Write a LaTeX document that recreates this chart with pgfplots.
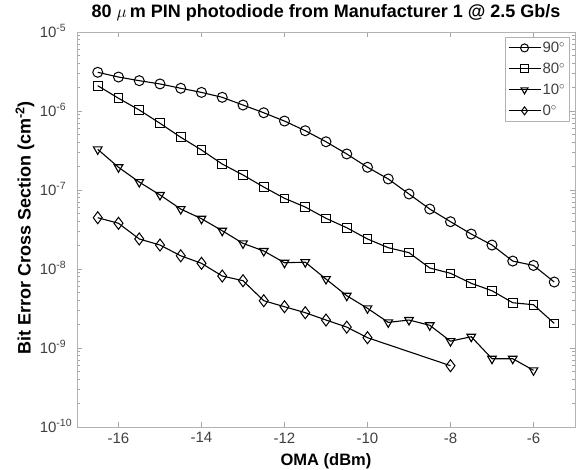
\documentclass[border=0pt]{standalone}
\usepackage{fontspec}
\setmainfont{Liberation Sans}
\usepackage{pgfplots}
\pgfplotsset{compat=1.18}

% measured bit error cross sections, one table per incidence angle
\pgfplotstableread{
x y
-16.5 3.09e-6
-16.0 2.69e-6
-15.5 2.42e-6
-15.0 2.20e-6
-14.5 1.94e-6
-14.0 1.72e-6
-13.5 1.49e-6
-13.0 1.19e-6
-12.5 9.5e-7
-12.0 7.46e-7
-11.5 5.63e-7
-11.0 4.08e-7
-10.5 2.86e-7
-10.0 1.94e-7
-9.5 1.38e-7
-9.0 8.9e-8
-8.5 5.74e-8
-8.0 3.97e-8
-7.5 2.77e-8
-7.0 2.01e-8
-6.5 1.26e-8
-6.0 1.11e-8
-5.5 6.84e-9
}\angleninety
\pgfplotstableread{
x y
-16.5 2.09e-6
-16.0 1.45e-6
-15.5 1.03e-6
-15.0 6.99e-7
-14.5 4.65e-7
-14.0 3.21e-7
-13.5 2.13e-7
-13.0 1.55e-7
-12.5 1.09e-7
-12.0 7.85e-8
-11.5 6.09e-8
-11.0 4.38e-8
-10.5 3.33e-8
-10.0 2.40e-8
-9.5 1.86e-8
-9.0 1.61e-8
-8.5 1.03e-8
-8.0 8.82e-9
-7.5 6.59e-9
-7.0 5.31e-9
-6.5 3.74e-9
-6.0 3.53e-9
-5.5 2.05e-9
}\angleeighty
\pgfplotstableread{
x y
-16.5 3.27e-7
-16.0 1.94e-7
-15.5 1.26e-7
-15.0 8.65e-8
-14.5 5.74e-8
-14.0 4.33e-8
-13.5 3.05e-8
-13.0 2.11e-8
-12.5 1.69e-8
-12.0 1.20e-8
-11.5 1.22e-8
-11.0 7.46e-9
-10.5 4.59e-9
-10.0 3.18e-9
-9.5 2.11e-9
-9.0 2.26e-9
-8.5 1.94e-9
-8.0 1.22e-9
-7.5 1.39e-9
-7.0 7.32e-10
-6.5 7.32e-10
-6.0 5.22e-10
}\angleten
\pgfplotstableread{
x y
-16.5 4.46e-8
-16.0 3.79e-8
-15.5 2.40e-8
-15.0 2.01e-8
-14.5 1.47e-8
-14.0 1.18e-8
-13.5 8.15e-9
-13.0 7.11e-9
-12.5 3.97e-9
-12.0 3.33e-9
-11.5 2.80e-9
-11.0 2.26e-9
-10.5 1.84e-9
-10.0 1.35e-9
-8.0 5.97e-10
}\anglezero

\newcommand{\dec}[1]{10\rlap{\smash{\textsuperscript{#1}}}}

\begin{document}
\begin{tikzpicture}
\begin{axis}[
  at={(0pt,0pt)}, anchor=south west,
  scale only axis, width=498pt, height=395pt,
  ymode=log,
  xmin=-17, xmax=-5, ymin=1e-10, ymax=1e-5,
  axis line style={draw=black!30, line width=0.8pt},
  every tick/.style={draw=black!35, line width=0.6pt},
  tick align=inside,
  major tick length=5pt, minor tick length=3pt,
  xtick={-16,-14,-12,-10,-8,-6},
  xticklabels={-16,-14,-12,-10,-8,-6},
  ytick={1e-10,1e-9,1e-8,1e-7,1e-6,1e-5},
  yticklabels={\dec{-10},\dec{-9},\dec{-8},\dec{-7},\dec{-6},\dec{-5}},
  ticklabel style={font=\fontsize{15}{15}\selectfont, text=black!75},
  xticklabel style={yshift=-2pt},
  yticklabel style={anchor=east, xshift=-17pt},
  title={\textbf{80 $\mu$\,m PIN photodiode from Manufacturer 1 @ 2.5 Gb/s}},
  title style={font=\fontsize{18}{18}\selectfont, at={(axis description cs:0.5,1)}, anchor=base, yshift=9pt},
  xlabel={\textbf{OMA (dBm)}},
  xlabel style={font=\fontsize{16.5}{16.5}\selectfont, at={(axis description cs:0.5,-0.0987)}, anchor=base},
  ylabel={\textbf{Bit Error Cross Section (cm\textsuperscript{-2})}},
  ylabel style={font=\fontsize{18}{18}\selectfont, at={(axis description cs:-0.1044,0.504)}, anchor=center},
  every axis plot/.append style={black, line width=1.1pt, mark size=5pt,
    mark options={solid, fill=none, line width=1pt}},
  legend style={at={(rel axis cs:0.99,0.987)}, anchor=north east,
    draw=black!30, line width=0.6pt, font=\fontsize{15}{15}\selectfont,
    text=black!75, row sep=6pt, inner sep=3pt,
    nodes={inner sep=1.5pt}},
  legend cell align=left,
  legend image code/.code={
    \draw[mark repeat=2, mark phase=2, #1, mark size=4pt]
      plot coordinates {(0pt,0pt) (16pt,0pt) (32pt,0pt)};},
]
\addplot[mark=o] table {\angleninety};
\addlegendentry{90$^{\circ}$}
\addplot[mark=square, mark size=4.3pt] table {\angleeighty};
\addlegendentry{80$^{\circ}$}
\addplot[mark=triangle, mark options={rotate=180}] table {\angleten};
\addlegendentry{10$^{\circ}$}
\addplot[mark=diamond, mark size=6pt] table {\anglezero};
\addlegendentry{0$^{\circ}$}
\end{axis}
\pgfresetboundingbox
\path (-77pt,-43pt) rectangle (505pt,427pt);
\end{tikzpicture}
\end{document}
